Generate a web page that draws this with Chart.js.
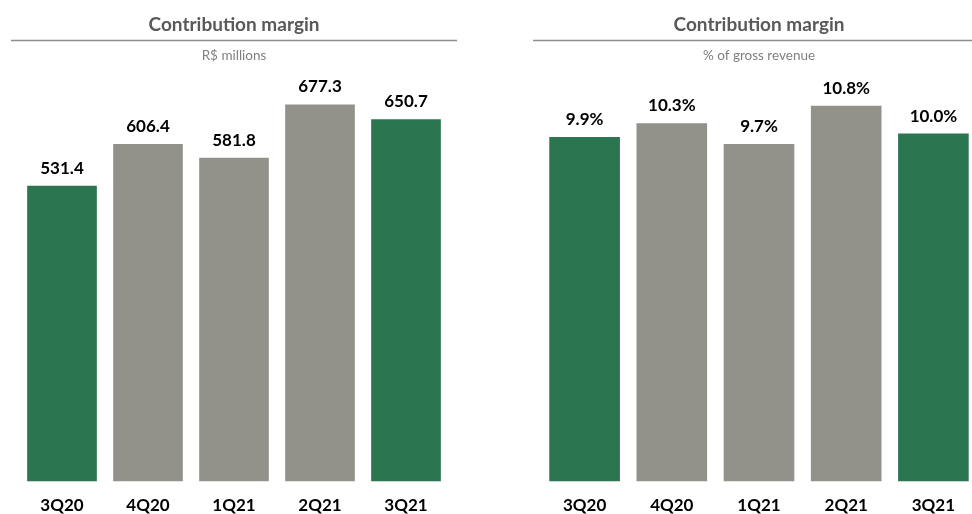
<!DOCTYPE html>
<html>

<head>
    <meta charset="utf-8">
    <title>Contribution margin</title>
    <script src="https://cdn.jsdelivr.net/npm/chart.js"></script>
    <style>
        html, body { margin: 0; padding: 0; background: #fff; overflow: hidden; }
        .box { position: absolute; top: 0; height: 530px; }
        #left { left: 0; width: 468px; }
        #right { left: 522px; width: 474px; }
    </style>
</head>

<body>
    <div class="box" id="left"><canvas id="chartMillions"></canvas></div>
    <div class="box" id="right"><canvas id="chartPct"></canvas></div>
    <script>
    // quarters and values
    const quarters = ['3Q20', '4Q20', '1Q21', '2Q21', '3Q21'];
    const marginMillions = [531.4, 606.4, 581.8, 677.3, 650.7];
    const marginPct = [9.9, 10.3, 9.7, 10.8, 10.0];
    const yearOverYear = ['3Q20', '3Q21'];   // quarters shown in green

    const GREEN = '#2b7550';
    const GREY = '#92928a';
    const FONT = 'Lato, "Open Sans", sans-serif';

    const barColors = quarters.map(q => yearOverYear.includes(q) ? GREEN : GREY);

    // value labels on top of each bar
    const valueLabels = {
        id: 'valueLabels',
        afterDatasetsDraw(chart, args, opts) {
            const ctx = chart.ctx;
            const ds = chart.data.datasets[0];
            chart.getDatasetMeta(0).data.forEach((bar, i) => {
                ctx.save();
                ctx.font = 'bold 17px ' + FONT;
                ctx.fillStyle = '#000';
                ctx.textAlign = 'center';
                ctx.textBaseline = 'alphabetic';
                ctx.fillText(opts.format(ds.data[i]), bar.x, bar.y - 12);
                ctx.restore();
            });
        }
    };

    // rule between title and subtitle
    const titleRule = {
        id: 'titleRule',
        afterDraw(chart) {
            const ctx = chart.ctx;
            const a = chart.chartArea;
            ctx.save();
            ctx.strokeStyle = '#8f8f8f';
            ctx.lineWidth = 1.5;
            ctx.beginPath();
            ctx.moveTo(a.left - 8, 40.5);
            ctx.lineTo(a.right + 8, 40.5);
            ctx.stroke();
            ctx.restore();
        }
    };

    function makeChart(id, values, subtitle, max, format) {
        const ctx = document.getElementById(id).getContext('2d');
        return new Chart(ctx, {
            type: 'bar',
            data: {
                labels: quarters,
                datasets: [{
                    data: values,
                    backgroundColor: barColors,
                    categoryPercentage: 1,
                    barPercentage: 0.81
                }]
            },
            options: {
                responsive: true,
                maintainAspectRatio: false,
                animation: false,
                layout: { padding: { left: 19, right: 19, top: 0, bottom: 0 } },
                plugins: {
                    legend: { display: false },
                    tooltip: { enabled: false },
                    title: {
                        display: true,
                        text: 'Contribution margin',
                        color: '#595959',
                        font: { family: FONT, size: 19, weight: 'bold' },
                        padding: { top: 13, bottom: 12 }
                    },
                    subtitle: {
                        display: true,
                        text: subtitle,
                        color: '#808080',
                        font: { family: FONT, size: 13.5 },
                        padding: { top: 0, bottom: 0 }
                    },
                    valueLabels: { format: format }
                },
                scales: {
                    x: {
                        grid: { display: false, drawTicks: false },
                        border: { display: false },
                        ticks: {
                            color: '#000',
                            padding: 14,
                            font: { family: FONT, size: 17, weight: 'bold' }
                        }
                    },
                    y: {
                        display: false,
                        min: 0,
                        max: max
                    }
                }
            },
            plugins: [valueLabels, titleRule]
        });
    }

    makeChart('chartMillions', marginMillions, 'R$ millions', 750, v => v.toFixed(1));
    makeChart('chartPct', marginPct, '% of gross revenue', 12, v => v.toFixed(1) + '%');
    </script>
</body>

</html>
